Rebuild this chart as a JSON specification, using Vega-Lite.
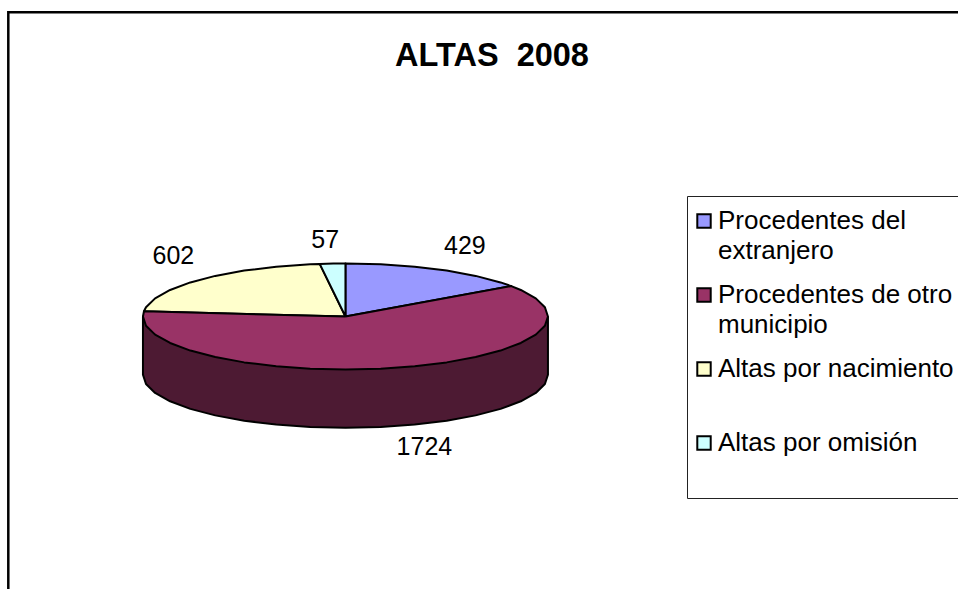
{"$schema":"https://vega.github.io/schema/vega-lite/v6.json","width":958,"height":589,"autosize":"none","padding":0,"background":"white","config":{"view":{"stroke":null},"font":"Liberation Sans","style":{"guide-label":{"lineHeight":30}}},
"title":{"text":"ALTAS \u00a02008","anchor":"middle","dx":13,"offset":-72,"fontSize":32.5,"fontWeight":"bold","font":"Liberation Sans","color":"black"},
"datasets":{
"frame":[{"n":1,"x":-166.5,"y":-700},{"n":2,"x":-166.5,"y":574},{"n":3,"x":400,"y":574}],
"lateral":[{"n":1,"x":100,"y":0},{"n":2,"x":100,"y":-110},{"n":3,"x":98.5,"y":-127.4},{"n":4,"x":94,"y":-144.2},{"n":5,"x":86.6,"y":-160},{"n":6,"x":76.6,"y":-174.3},{"n":7,"x":64.3,"y":-186.6},{"n":8,"x":50,"y":-196.6},{"n":9,"x":34.2,"y":-204},{"n":10,"x":17.4,"y":-208.5},{"n":11,"x":0,"y":-210},{"n":12,"x":-17.4,"y":-208.5},{"n":13,"x":-34.2,"y":-204},{"n":14,"x":-50,"y":-196.6},{"n":15,"x":-64.3,"y":-186.6},{"n":16,"x":-76.6,"y":-174.3},{"n":17,"x":-86.6,"y":-160},{"n":18,"x":-94,"y":-144.2},{"n":19,"x":-98.5,"y":-127.4},{"n":20,"x":-100,"y":-110},{"n":21,"x":-100,"y":0},{"n":22,"x":100,"y":0}],
"sectores":[
{"categoria":"Procedentes del extranjero","n":1,"x":0,"y":0},{"categoria":"Procedentes del extranjero","n":2,"x":0,"y":100},{"categoria":"Procedentes del extranjero","n":3,"x":17.4,"y":98.5},{"categoria":"Procedentes del extranjero","n":4,"x":34.2,"y":94},{"categoria":"Procedentes del extranjero","n":5,"x":50,"y":86.6},{"categoria":"Procedentes del extranjero","n":6,"x":64.3,"y":76.6},{"categoria":"Procedentes del extranjero","n":7,"x":76.6,"y":64.3},{"categoria":"Procedentes del extranjero","n":8,"x":81.9,"y":57.4},{"categoria":"Procedentes del extranjero","n":9,"x":0,"y":0},
{"categoria":"Altas por nacimiento","n":1,"x":0,"y":0},{"categoria":"Altas por nacimiento","n":2,"x":-99.5,"y":9.8},{"categoria":"Altas por nacimiento","n":3,"x":-98.5,"y":17.4},{"categoria":"Altas por nacimiento","n":4,"x":-94,"y":34.2},{"categoria":"Altas por nacimiento","n":5,"x":-86.6,"y":50},{"categoria":"Altas por nacimiento","n":6,"x":-76.6,"y":64.3},{"categoria":"Altas por nacimiento","n":7,"x":-64.3,"y":76.6},{"categoria":"Altas por nacimiento","n":8,"x":-50,"y":86.6},{"categoria":"Altas por nacimiento","n":9,"x":-34.2,"y":94},{"categoria":"Altas por nacimiento","n":10,"x":-17.4,"y":98.5},{"categoria":"Altas por nacimiento","n":11,"x":-12.7,"y":99.2},{"categoria":"Altas por nacimiento","n":12,"x":0,"y":0},
{"categoria":"Altas por omisión","n":1,"x":0,"y":0},{"categoria":"Altas por omisión","n":2,"x":-12.7,"y":99.2},{"categoria":"Altas por omisión","n":3,"x":-6,"y":99.8},{"categoria":"Altas por omisión","n":4,"x":0,"y":100},{"categoria":"Altas por omisión","n":5,"x":0,"y":0},
{"categoria":"Procedentes de otro municipio","n":1,"x":0,"y":0},{"categoria":"Procedentes de otro municipio","n":2,"x":81.9,"y":57.4},{"categoria":"Procedentes de otro municipio","n":3,"x":86.6,"y":50},{"categoria":"Procedentes de otro municipio","n":4,"x":94,"y":34.2},{"categoria":"Procedentes de otro municipio","n":5,"x":98.5,"y":17.4},{"categoria":"Procedentes de otro municipio","n":6,"x":100,"y":0},{"categoria":"Procedentes de otro municipio","n":7,"x":98.5,"y":-17.4},{"categoria":"Procedentes de otro municipio","n":8,"x":94,"y":-34.2},{"categoria":"Procedentes de otro municipio","n":9,"x":86.6,"y":-50},{"categoria":"Procedentes de otro municipio","n":10,"x":76.6,"y":-64.3},{"categoria":"Procedentes de otro municipio","n":11,"x":64.3,"y":-76.6},{"categoria":"Procedentes de otro municipio","n":12,"x":50,"y":-86.6},{"categoria":"Procedentes de otro municipio","n":13,"x":34.2,"y":-94},{"categoria":"Procedentes de otro municipio","n":14,"x":17.4,"y":-98.5},{"categoria":"Procedentes de otro municipio","n":15,"x":0,"y":-100},{"categoria":"Procedentes de otro municipio","n":16,"x":-17.4,"y":-98.5},{"categoria":"Procedentes de otro municipio","n":17,"x":-34.2,"y":-94},{"categoria":"Procedentes de otro municipio","n":18,"x":-50,"y":-86.6},{"categoria":"Procedentes de otro municipio","n":19,"x":-64.3,"y":-76.6},{"categoria":"Procedentes de otro municipio","n":20,"x":-76.6,"y":-64.3},{"categoria":"Procedentes de otro municipio","n":21,"x":-86.6,"y":-50},{"categoria":"Procedentes de otro municipio","n":22,"x":-94,"y":-34.2},{"categoria":"Procedentes de otro municipio","n":23,"x":-98.5,"y":-17.4},{"categoria":"Procedentes de otro municipio","n":24,"x":-100,"y":0},{"categoria":"Procedentes de otro municipio","n":25,"x":-99.5,"y":9.8},{"categoria":"Procedentes de otro municipio","n":26,"x":0,"y":0}
],
"etiquetas":[{"altas":429,"x":59,"y":133},{"altas":57,"x":-10,"y":144},{"altas":602,"x":-85,"y":114},{"altas":1724,"x":39,"y":-246}]
},
"encoding":{"x":{"field":"x","type":"quantitative","scale":{"domain":[-170.6,302.5],"nice":false,"zero":false},"axis":null},"y":{"field":"y","type":"quantitative","scale":{"domain":[-514.2,597.2],"nice":false,"zero":false},"axis":null}},
"layer":[
{"data":{"name":"frame"},"mark":{"type":"line","stroke":"black","strokeWidth":2.5,"strokeJoin":"miter"},"encoding":{"order":{"field":"n","type":"ordinal"}}},
{"data":{"name":"lateral"},"mark":{"type":"line","fill":"#4d1a33","stroke":"black","strokeWidth":2,"strokeJoin":"round"},"encoding":{"order":{"field":"n","type":"ordinal"}}},
{"data":{"name":"sectores"},"mark":{"type":"line","stroke":"black","strokeWidth":2,"strokeJoin":"round","filled":true},"encoding":{"order":{"field":"n","type":"ordinal"},
"fill":{"field":"categoria","type":"nominal","sort":null,"scale":{"domain":["Procedentes del extranjero","Procedentes de otro municipio","Altas por nacimiento","Altas por omisión"],"range":["#9999ff","#993366","#ffffcc","#ccffff"]},
"legend":{"title":null,"orient":"none","legendX":687,"legendY":196,"padding":12,"strokeColor":"#222222","fillColor":"white","symbolType":"square","symbolSize":180,"symbolStrokeColor":"black","symbolStrokeWidth":2,"symbolOpacity":1,"symbolOffset":-8,"labelFont":"Liberation Sans","labelFontSize":26,"labelColor":"black","labelLimit":400,"labelOffset":1,"labelBaseline":"middle","rowPadding":18,"labelExpr":"datum.label == 'Procedentes del extranjero' ? ['Procedentes del','extranjero'] : datum.label == 'Procedentes de otro municipio' ? ['Procedentes de otro','municipio'] : [datum.label,' ']"}}}},
{"data":{"name":"etiquetas"},"mark":{"type":"text","font":"Liberation Sans","fontSize":25,"color":"black","baseline":"middle"},"encoding":{"text":{"field":"altas","type":"quantitative","format":"d"}}}
]}
